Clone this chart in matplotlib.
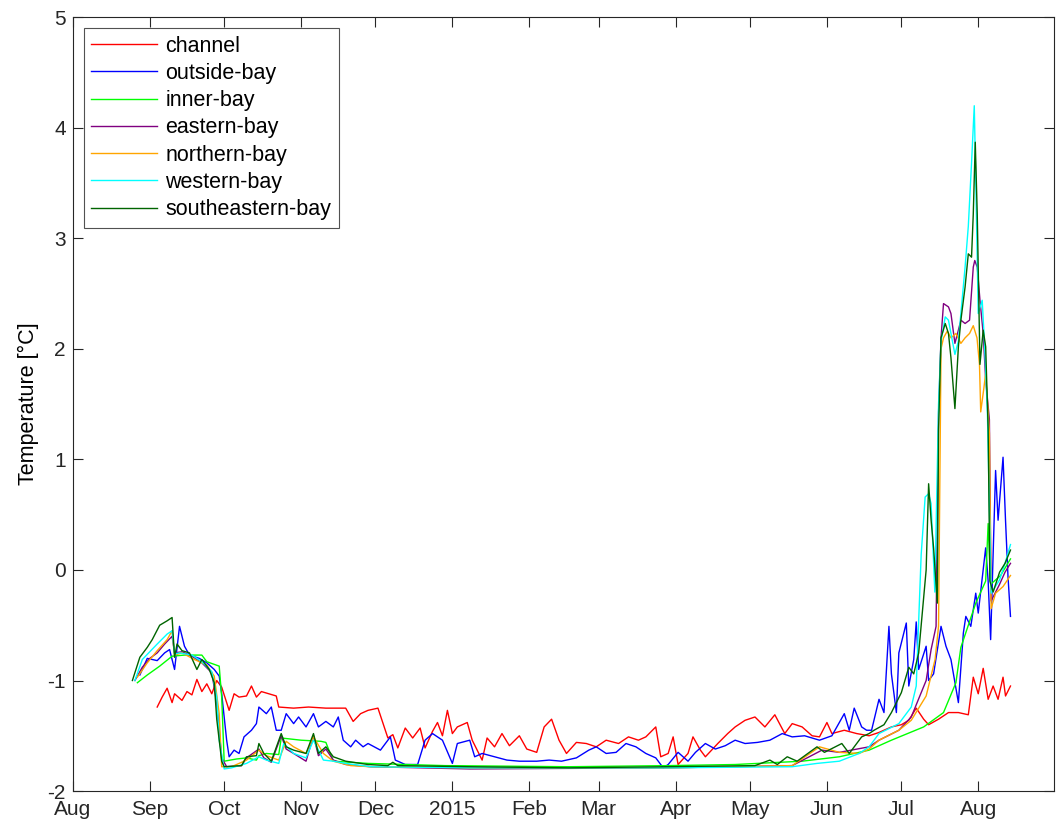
import datetime as dt

import matplotlib

matplotlib.use("Agg")
import matplotlib.dates as mdates  # noqa: E402
import matplotlib.pyplot as plt  # noqa: E402

plt.rcParams["font.family"] = ["Liberation Sans", "DejaVu Sans"]
plt.rcParams["axes.unicode_minus"] = False

# days counted from 2014-08-01
channel_days = [34, 36, 38, 40, 41, 44, 46, 48, 50, 52, 54, 56, 58, 60, 63, 65, 67, 70, 72, 74, 76, 79, 82, 83,
                89, 95, 102, 110, 113, 116, 119, 123, 127, 129, 131, 134, 137, 140, 142, 145, 147, 149, 151, 153,
                155, 159, 161, 165, 167, 170, 173, 176, 180, 183, 187, 190, 193, 196, 199, 203, 207, 211, 215, 220,
                224, 228, 231, 235, 237, 240, 242, 244, 248, 250, 253, 255, 260, 264, 267, 271, 275, 279, 283, 287,
                290, 294, 298, 301, 304, 306, 311, 316, 321, 325, 330, 334, 337, 340, 343, 345, 349, 353, 357, 361,
                363, 365, 367, 369, 371, 373, 375, 376, 378]
channel_vals = [-1.24, -1.15, -1.07, -1.2, -1.12, -1.18, -1.1, -1.13, -0.99, -1.1, -1.03, -1.12, -1.0, -1.06,
                -1.27, -1.12, -1.15, -1.14, -1.05, -1.15, -1.1, -1.12, -1.14, -1.24, -1.25, -1.24, -1.25, -1.25,
                -1.37, -1.3, -1.27, -1.25, -1.52, -1.49, -1.61, -1.43, -1.52, -1.43, -1.61, -1.46, -1.38, -1.5,
                -1.27, -1.48, -1.42, -1.38, -1.54, -1.72, -1.52, -1.6, -1.48, -1.59, -1.5, -1.62, -1.65, -1.42,
                -1.35, -1.54, -1.66, -1.56, -1.57, -1.6, -1.54, -1.57, -1.51, -1.54, -1.51, -1.42, -1.69, -1.66,
                -1.51, -1.76, -1.66, -1.51, -1.63, -1.69, -1.57, -1.48, -1.42, -1.36, -1.33, -1.42, -1.31, -1.48,
                -1.39, -1.42, -1.5, -1.51, -1.38, -1.48, -1.45, -1.48, -1.5, -1.47, -1.42, -1.4, -1.36, -1.25,
                -1.35, -1.4, -1.35, -1.29, -1.29, -1.31, -0.97, -1.12, -0.89, -1.17, -1.05, -1.17, -0.97, -1.14,
                -1.05]

outside_days = [27, 30, 34, 37, 39, 41, 43, 45, 47, 51, 54, 57, 59, 60, 62, 63, 65, 67, 69, 72, 74, 75, 78, 80,
                82, 84, 86, 89, 91, 94, 97, 99, 102, 105, 107, 109, 112, 114, 117, 119, 124, 128, 130, 134, 139,
                142, 145, 149, 153, 155, 160, 162, 165, 170, 175, 180, 187, 192, 197, 203, 208, 211, 215, 219, 223,
                227, 231, 235, 238, 240, 244, 248, 251, 255, 259, 263, 267, 271, 276, 281, 286, 290, 295, 301, 306,
                311, 313, 315, 318, 320, 322, 325, 327, 329, 330, 332, 333, 336, 337, 339, 340, 341, 344, 345, 347,
                350, 352, 354, 357, 359, 360, 362, 364, 365, 368, 369, 370, 371, 372, 373, 375, 376, 377, 378]
outside_vals = [-0.95, -0.8, -0.82, -0.75, -0.72, -0.9, -0.51, -0.69, -0.77, -0.8, -0.84, -0.9, -0.96, -1.12,
                -1.54, -1.69, -1.63, -1.66, -1.51, -1.45, -1.39, -1.24, -1.3, -1.24, -1.45, -1.45, -1.3, -1.39,
                -1.33, -1.42, -1.3, -1.42, -1.37, -1.42, -1.33, -1.54, -1.6, -1.54, -1.6, -1.57, -1.63, -1.51,
                -1.72, -1.76, -1.76, -1.54, -1.48, -1.54, -1.75, -1.57, -1.54, -1.69, -1.66, -1.69, -1.72, -1.73,
                -1.73, -1.72, -1.73, -1.7, -1.63, -1.6, -1.66, -1.65, -1.57, -1.6, -1.66, -1.7, -1.79, -1.76,
                -1.65, -1.73, -1.65, -1.57, -1.62, -1.59, -1.54, -1.57, -1.56, -1.54, -1.48, -1.51, -1.5, -1.54,
                -1.5, -1.3, -1.45, -1.25, -1.42, -1.45, -1.45, -1.17, -1.29, -0.51, -0.94, -1.29, -0.75, -0.48,
                -1.05, -0.81, -0.47, -0.9, -0.69, -1.0, -0.94, -0.51, -0.69, -0.81, -1.2, -0.57, -0.42, -0.51,
                -0.21, -0.39, 0.2, -0.1, -0.63, 0.14, 0.9, 0.45, 1.02, 0.45, -0.06, -0.42]

inner_days = [26, 30, 35, 40, 45, 52, 54, 59, 60, 61, 66, 70, 74, 75, 78, 83, 84, 92, 100, 102, 105, 119, 150,
              200, 240, 267, 294, 309, 321, 330, 343, 351, 356, 358, 364, 368, 369, 370, 374, 378]
inner_vals = [-1.02, -0.95, -0.87, -0.78, -0.77, -0.77, -0.83, -0.87, -1.15, -1.73, -1.71, -1.7, -1.72, -1.68,
              -1.66, -1.67, -1.52, -1.54, -1.55, -1.56, -1.73, -1.75, -1.77, -1.78, -1.77, -1.76, -1.73, -1.69,
              -1.63, -1.54, -1.42, -1.29, -1.02, -0.7, -0.3, -0.1, 0.42, -0.13, -0.05, 0.1]

eastern_days = [25, 28, 31, 34, 37, 40, 41, 44, 48, 52, 56, 58, 60, 62, 68, 70, 75, 77, 80, 84, 86, 89, 94, 97,
                99, 102, 105, 110, 120, 160, 240, 290, 302, 309, 321, 325, 333, 338, 344, 346, 348, 349, 350, 351,
                353, 354, 355.6, 357, 358, 359.7, 361.5, 363, 363.6, 364.6, 365.7, 367, 368, 369.5, 370.2, 373.6,
                375.8, 378]
eastern_vals = [-1.0, -0.88, -0.8, -0.75, -0.67, -0.6, -0.75, -0.74, -0.78, -0.84, -0.93, -1.2, -1.7, -1.78,
                -1.77, -1.7, -1.62, -1.7, -1.74, -1.5, -1.62, -1.66, -1.73, -1.5, -1.68, -1.62, -1.72, -1.76,
                -1.78, -1.8, -1.79, -1.77, -1.63, -1.65, -1.6, -1.54, -1.45, -1.33, -1.0, -0.72, -0.51, 1.42, 2.1,
                2.41, 2.38, 2.32, 2.05, 2.17, 2.26, 2.23, 2.26, 2.74, 2.8, 2.74, 2.44, 2.14, 1.72, 1.36, -0.28,
                -0.13, -0.02, 0.06]

northern_days = [26, 30, 34, 38, 40, 41, 44, 49, 54, 57, 59, 60, 64, 70, 75, 78, 83, 86, 89, 94, 97, 101, 105,
                 112, 120, 160, 240, 290, 301, 309, 317, 321, 325, 333, 338, 344, 347.6, 349, 350, 351, 352.5, 354,
                 356, 358, 359.7, 361.5, 363, 364.5, 365.5, 366, 367.3, 368, 369.5, 370.2, 372, 375, 378]
northern_vals = [-0.97, -0.84, -0.73, -0.63, -0.55, -0.77, -0.75, -0.81, -0.86, -0.96, -1.3, -1.78, -1.78, -1.72,
                 -1.63, -1.68, -1.72, -1.55, -1.6, -1.66, -1.51, -1.66, -1.73, -1.77, -1.78, -1.79, -1.79, -1.77,
                 -1.6, -1.65, -1.66, -1.62, -1.54, -1.45, -1.36, -1.14, -0.81, -0.51, 2.0, 2.1, 2.16, 2.1, 2.14,
                 2.05, 2.1, 2.14, 2.21, 2.1, 1.86, 1.43, 1.65, 1.78, 1.24, -0.35, -0.21, -0.15, -0.05]

western_days = [25, 28, 31, 34, 38, 40, 41, 43, 48, 52, 56, 58, 59, 61, 64, 70, 75, 78, 83, 85, 89, 94, 97, 101,
                105, 110, 120, 160, 240, 290, 300, 309, 317, 321, 325, 333, 338, 340, 342, 343.6, 345, 346, 347.5,
                349, 350, 351.7, 353, 354, 355.6, 357, 358, 359.7, 361, 362.3, 363.4, 364, 365, 366.6, 367.6,
                368.7, 370.2, 373.6, 375.8, 378]
western_vals = [-1.0, -0.81, -0.74, -0.67, -0.58, -0.55, -0.76, -0.75, -0.77, -0.83, -0.92, -1.15, -1.54, -1.8,
                -1.79, -1.75, -1.69, -1.72, -1.75, -1.57, -1.66, -1.7, -1.54, -1.72, -1.73, -1.75, -1.78, -1.79,
                -1.79, -1.78, -1.75, -1.73, -1.66, -1.6, -1.48, -1.39, -1.24, -1.05, 0.14, 0.66, 0.69, 0.6, -0.2,
                1.5, 2.07, 2.29, 2.26, 2.14, 1.95, 2.07, 2.32, 2.74, 3.11, 3.68, 4.2, 3.53, 2.32, 2.44, 2.02, 1.42,
                -0.21, -0.09, 0.06, 0.23]

southeastern_days = [24, 27, 30, 32, 35, 38, 40, 41, 42, 44, 47, 50, 52, 55, 57, 58, 60, 61, 68, 70, 74, 75, 77,
                     80, 84, 86, 89, 94, 97, 99, 102, 105, 110, 119, 127, 129, 131, 160, 200, 240, 275, 281, 284,
                     288, 292, 300, 303, 310, 313, 318, 321, 323, 327, 330, 334, 337, 339, 341, 344, 345, 346, 347,
                     348.5, 349, 350, 351.7, 353, 354, 355.6, 357, 358, 359.7, 361, 362.3, 363, 363.8, 364.6, 365.7,
                     367, 368, 369, 369.7, 371, 373.6, 375.8, 378]
southeastern_vals = [-1.0, -0.79, -0.7, -0.63, -0.5, -0.46, -0.43, -0.79, -0.67, -0.73, -0.75, -0.9, -0.81, -0.9,
                     -1.02, -1.35, -1.73, -1.78, -1.77, -1.69, -1.68, -1.57, -1.66, -1.73, -1.48, -1.6, -1.63,
                     -1.66, -1.48, -1.66, -1.6, -1.69, -1.73, -1.76, -1.77, -1.74, -1.77, -1.78, -1.79, -1.78,
                     -1.77, -1.72, -1.76, -1.69, -1.73, -1.6, -1.65, -1.57, -1.66, -1.51, -1.48, -1.45, -1.4, -1.29,
                     -1.11, -0.88, -0.94, -0.75, 0.0, 0.78, 0.45, 0.2, -0.3, 1.27, 2.1, 2.23, 2.14, 1.92, 1.46, 2.02,
                     2.26, 2.56, 2.86, 2.83, 3.22, 3.87, 3.22, 1.86, 2.17, 2.02, 1.27, -0.1, -0.2, -0.02, 0.06, 0.18]

series = [
    ("channel", channel_days, channel_vals, "#ff0000"),
    ("outside-bay", outside_days, outside_vals, "#0000ff"),
    ("inner-bay", inner_days, inner_vals, "#00ff00"),
    ("eastern-bay", eastern_days, eastern_vals, "#800080"),
    ("northern-bay", northern_days, northern_vals, "#ffa500"),
    ("western-bay", western_days, western_vals, "#00ffff"),
    ("southeastern-bay", southeastern_days, southeastern_vals, "#006400"),
]

month_starts = [dt.datetime(2014, m, 1) for m in range(8, 13)] + [dt.datetime(2015, m, 1) for m in range(1, 9)]
month_labels = ["Aug", "Sep", "Oct", "Nov", "Dec", "2015", "Feb", "Mar", "Apr", "May", "Jun", "Jul", "Aug"]

t0 = mdates.date2num(dt.datetime(2014, 8, 1))

fig = plt.figure(figsize=(10.56, 8.24), dpi=100)
ax = fig.add_axes([0.069, 0.04, 0.929, 0.939])

for name, days, vals, color in series:
    ax.plot([t0 + d for d in days], vals, color=color, lw=1.0, label=name)

ax.set_xlim(t0, t0 + 395.5)
ax.set_ylim(-2, 5)
ax.set_xticks(mdates.date2num(month_starts))
ax.set_xticklabels(month_labels)
ax.set_yticks(range(-2, 6))
ax.tick_params(direction="in", top=True, right=True, length=7.5, width=0.8, labelsize=15, colors="#262626")
ax.tick_params(axis="x", pad=6.5)
ax.tick_params(axis="y", pad=5)
for sp in ax.spines.values():
    sp.set_color("#262626")
    sp.set_linewidth(0.8)
ax.set_ylabel("Temperature [°C]", fontsize=15.5, labelpad=6)

leg = ax.legend(loc="upper left", bbox_to_anchor=(0.011, 0.986), borderaxespad=0, fontsize=15.5,
                handlelength=3.07, handletextpad=0.37, labelspacing=0.29, borderpad=0.35, frameon=True,
                fancybox=False)
leg.get_frame().set_edgecolor("#262626")
leg.get_frame().set_linewidth(0.8)

fig.savefig("out.png", dpi=100, facecolor="white")
